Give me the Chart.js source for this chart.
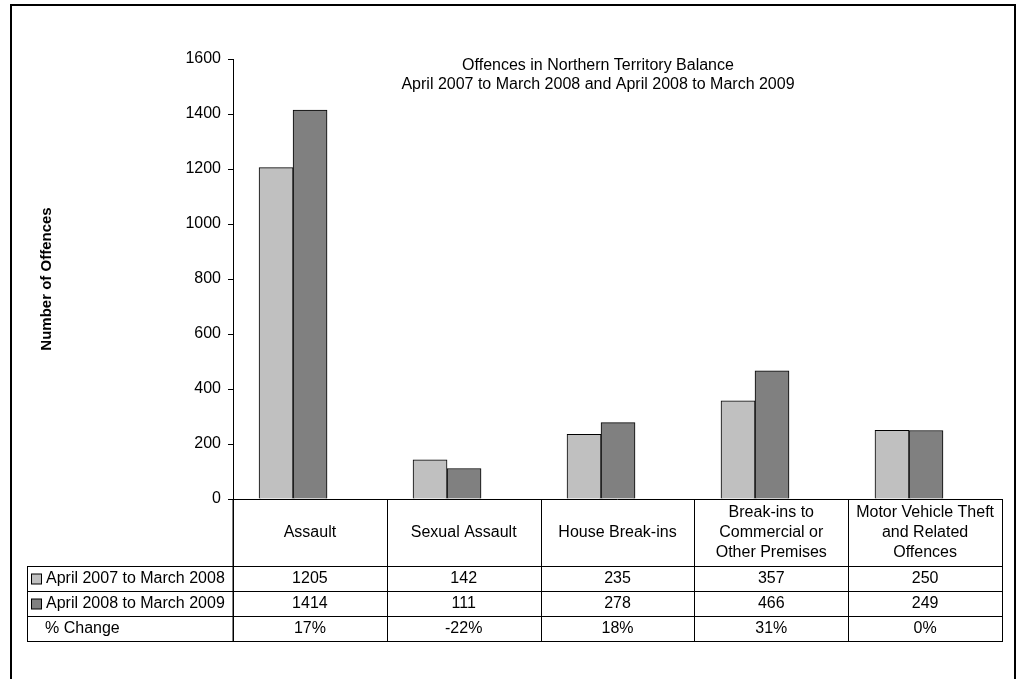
<!DOCTYPE html>
<html lang="en">
<head>
    <meta charset="UTF-8">
    <title>Offences in Northern Territory Balance</title>
    <script src="https://cdn.jsdelivr.net/npm/chart.js"></script>
    <style>
        body {
            margin: 0;
            padding: 0;
            background: white;
        }
        .chart-box {
            width: 1021px;
            height: 679px;
            position: relative;
        }
    </style>
</head>
<body>
    <div class="chart-box">
        <canvas id="offenceChart" width="1021" height="679"></canvas>
    </div>

    <script>
        const categories = [
            ['Assault'],
            ['Sexual Assault'],
            ['House Break-ins'],
            ['Break-ins to', 'Commercial or', 'Other Premises'],
            ['Motor Vehicle Theft', 'and Related', 'Offences']
        ];
        const seriesNames = ['April 2007 to March 2008', 'April 2008 to March 2009'];
        const values2008 = [1205, 142, 235, 357, 250];
        const values2009 = [1414, 111, 278, 466, 249];
        const pctChange = ['17%', '-22%', '18%', '31%', '0%'];
        const titleLines = ['Offences in Northern Territory Balance',
                            'April 2007 to March 2008 and April 2008 to March 2009'];

        const FONT = '"Liberation Sans", Arial, sans-serif';

        // bars sit a little left of the table columns in the original, so use a linear x scale
        const toPoints = arr => arr.map((v, i) => ({ x: i, y: v }));

        // frame, title and the data table under the bars
        const tablePlugin = {
            id: 'tablePlugin',
            beforeDraw(chart) {
                const ctx = chart.ctx;
                ctx.save();
                ctx.fillStyle = '#fff';
                ctx.fillRect(0, 0, chart.width, chart.height);
                ctx.strokeStyle = '#000';
                ctx.lineWidth = 2;
                ctx.strokeRect(11, 5, 1004, 700);
                ctx.restore();
            },
            afterDraw(chart) {
                const ctx = chart.ctx;
                const area = chart.chartArea;
                const colW = (area.right - area.left) / categories.length;
                const colMid = i => area.left + (i + 0.5) * colW;
                const tableLeft = 27;
                const headTop = area.bottom;
                const headH = 67;
                const rowH = 25;
                const rowsTop = headTop + headH;
                const tableBottom = rowsTop + rowH * 3;

                ctx.save();

                // title (sits a bit left of the plot centre)
                ctx.fillStyle = '#000';
                ctx.font = '16px ' + FONT;
                ctx.textAlign = 'center';
                ctx.textBaseline = 'alphabetic';
                const midX = 598;
                ctx.fillText(titleLines[0], midX, 70);
                ctx.fillText(titleLines[1], midX, 89);

                // grid lines of the table
                ctx.lineWidth = 1;
                ctx.strokeStyle = '#000';
                ctx.beginPath();
                ctx.moveTo(area.left, headTop + 0.5);
                ctx.lineTo(area.right + 0.5, headTop + 0.5);
                ctx.moveTo(area.left, headTop);
                ctx.lineTo(area.left, tableBottom);
                for (let i = 0; i <= categories.length; i++) {
                    const x = Math.round(area.left + i * colW) + 0.5;
                    ctx.moveTo(x, headTop);
                    ctx.lineTo(x, tableBottom);
                }
                ctx.moveTo(tableLeft + 0.5, rowsTop);
                ctx.lineTo(tableLeft + 0.5, tableBottom);
                for (let r = 0; r <= 3; r++) {
                    const y = rowsTop + r * rowH + 0.5;
                    ctx.moveTo(tableLeft, y);
                    ctx.lineTo(area.right + 1, y);
                }
                ctx.stroke();

                // header labels
                ctx.textBaseline = 'middle';
                ctx.textAlign = 'center';
                categories.forEach((lines, i) => {
                    const cy = headTop + headH / 2;
                    lines.forEach((ln, k) => {
                        ctx.fillText(ln, colMid(i), cy + (k - (lines.length - 1) / 2) * 20);
                    });
                });

                // row labels with legend swatches
                const rowData = [values2008, values2009, pctChange];
                const swatch = [chart.data.datasets[0].backgroundColor, chart.data.datasets[1].backgroundColor];
                const rowLabels = [seriesNames[0], seriesNames[1], '% Change'];
                rowLabels.forEach((lab, r) => {
                    const cy = rowsTop + r * rowH + rowH / 2 + 0.5;
                    if (r < 2) {
                        ctx.fillStyle = swatch[r];
                        ctx.fillRect(31.5, cy - 5, 10, 10);
                        ctx.strokeStyle = '#000';
                        ctx.strokeRect(31.5, cy - 5, 10, 10);
                    }
                    ctx.fillStyle = '#000';
                    ctx.textAlign = 'left';
                    ctx.fillText(lab, r < 2 ? 46 : 45, cy);
                    ctx.textAlign = 'center';
                    rowData[r].forEach((v, i) => {
                        ctx.fillText(String(v), colMid(i), cy);
                    });
                });

                ctx.restore();
            }
        };

        const ctx = document.getElementById('offenceChart').getContext('2d');
        new Chart(ctx, {
            type: 'bar',
            data: {
                datasets: [
                    {
                        label: seriesNames[0],
                        data: toPoints(values2008),
                        backgroundColor: '#C0C0C0',
                        borderColor: '#000',
                        borderWidth: 1
                    },
                    {
                        label: seriesNames[1],
                        data: toPoints(values2009),
                        backgroundColor: '#808080',
                        borderColor: '#000',
                        borderWidth: 1
                    }
                ]
            },
            options: {
                responsive: false,
                animation: false,
                barThickness: 34,
                layout: {
                    padding: { left: 34, top: 59, right: 19, bottom: 180 }
                },
                plugins: {
                    legend: { display: false },
                    tooltip: { enabled: false },
                    title: { display: false }
                },
                scales: {
                    x: {
                        type: 'linear',
                        display: false,
                        offset: false,
                        min: -0.39,
                        max: 4.604,
                        ticks: { stepSize: 1 }
                    },
                    y: {
                        min: 0,
                        max: 1600,
                        afterFit: (scale) => { scale.width = 199; },
                        border: { color: '#000', width: 1 },
                        grid: {
                            drawOnChartArea: false,
                            drawTicks: true,
                            tickLength: 5,
                            color: '#000'
                        },
                        ticks: {
                            stepSize: 200,
                            padding: 7,
                            color: '#000',
                            font: { family: FONT, size: 16 },
                            callback: v => String(v)
                        },
                        title: {
                            display: true,
                            text: 'Number of Offences',
                            color: '#000',
                            font: { family: FONT, size: 15, weight: 'bold' }
                        }
                    }
                }
            },
            plugins: [tablePlugin]
        });
    </script>
</body>
</html>
